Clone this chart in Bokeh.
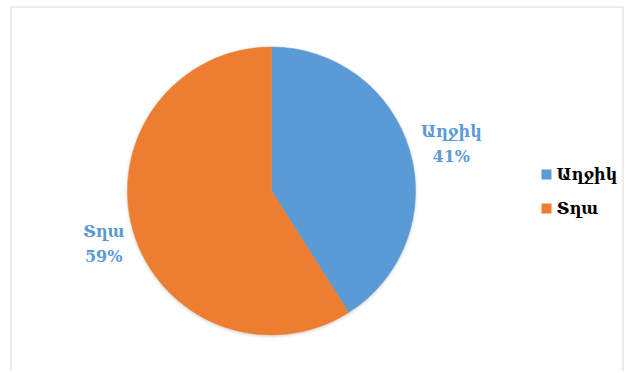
import math
from bokeh.plotting import figure
from bokeh.models import Range1d
from bokeh.core.properties import value
from bokeh.embed import file_html
from bokeh.resources import INLINE

categories = ["Աղջիկ", "Տղա"]
values = [41, 59]
colors = ["#5B9BD5", "#ED7D31"]

W, H = 627, 371
p = figure(width=W, height=H, x_range=Range1d(0, W), y_range=Range1d(0, H),
           output_backend="svg", toolbar_location=None, min_border=0,
           x_axis_type=None, y_axis_type=None)
p.grid.visible = False
p.outline_line_color = None
p.background_fill_color = "white"

def Y(sy):
    return H - sy

# chart border (left, top, right)
p.multi_line(xs=[[10.5, 10.5, 622.5, 622.5]], ys=[[0, Y(6.5), Y(6.5), 0]],
             line_color="#D9D9D9", line_width=1)

cx, cy, r = 271, Y(190.5), 144
total = sum(values)

# soft shadow
for i, a in enumerate([0.10, 0.06, 0.03]):
    p.circle(x=[cx], y=[cy - 1], radius=r + 1 + i, fill_color="#808080",
             fill_alpha=a, line_color=None)

start = math.pi / 2
label_r = 181
label_dx, label_dy = 6, -2.5
font = "DejaVu Serif"
for cat, v, c in zip(categories, values, colors):
    sweep = v / total * 2 * math.pi
    end = start - sweep
    p.wedge(x=[cx], y=[cy], radius=r, start_angle=start, end_angle=end,
            direction="clock", fill_color=c, line_color=c, line_width=0.5)
    mid = start - sweep / 2
    lx = cx + label_r * math.cos(mid) + label_dx
    ly = cy + label_r * math.sin(mid) + label_dy
    pct = f"{round(v / total * 100)}%"
    p.text(x=[lx], y=[ly + 12], text=[cat], text_align="center", text_baseline="middle",
           text_font=value(font), text_font_size="16px", text_font_style="bold",
           text_color="#5B9BD5")
    p.text(x=[lx], y=[ly - 13], text=[pct], text_align="center", text_baseline="middle",
           text_font=value(font), text_font_size="16px", text_font_style="bold",
           text_color="#5B9BD5")
    start = end

# legend
leg_x, leg_y0, leg_dy = 546, Y(174), 34
for i, (cat, c) in enumerate(zip(categories, colors)):
    y = leg_y0 - i * leg_dy
    p.rect(x=[leg_x], y=[y], width=10, height=10, fill_color=c, line_color=None)
    p.text(x=[leg_x + 10], y=[y], text=[cat], text_align="left", text_baseline="middle",
           text_font=value(font), text_font_size="16px", text_font_style="bold",
           text_color="#000000")

open("out.html", "w").write(file_html(p, INLINE))
